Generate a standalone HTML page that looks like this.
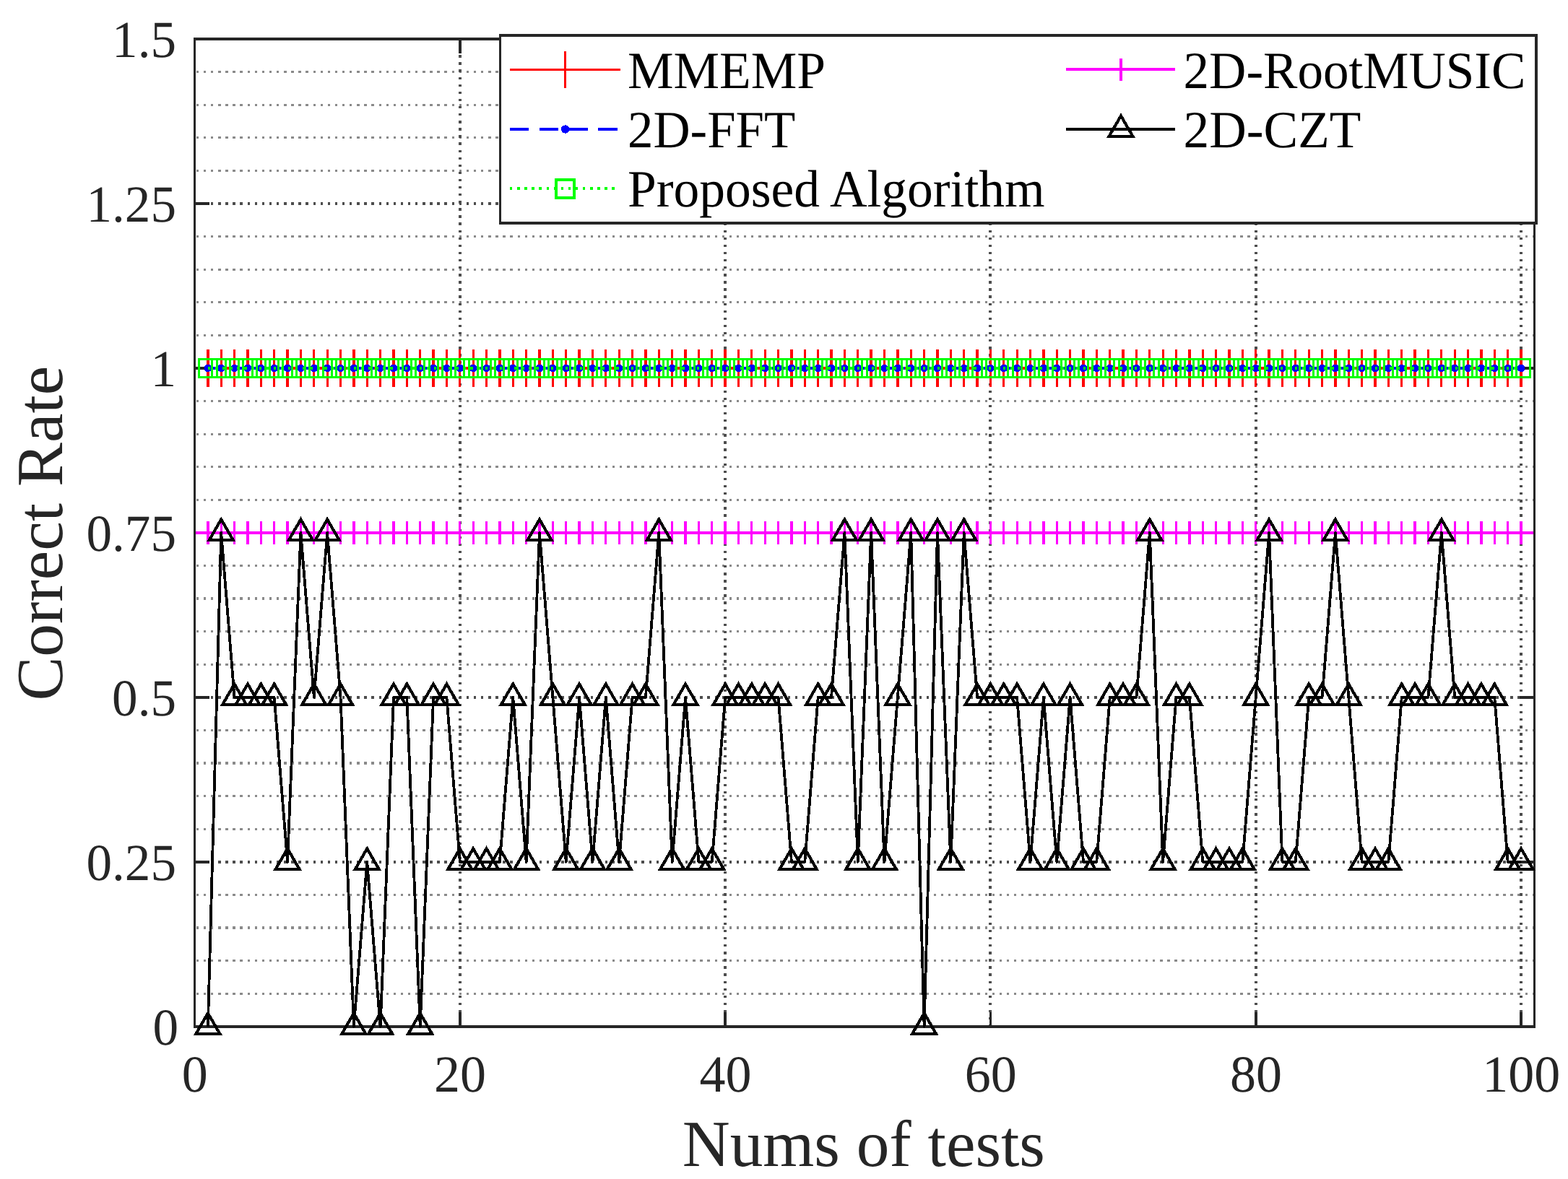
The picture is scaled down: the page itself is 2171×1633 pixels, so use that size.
<!DOCTYPE html>
<html lang="en">
<head>
<meta charset="utf-8">
<title>Correct Rate vs Nums of tests</title>
<style>
html,body{margin:0;padding:0;background:#fff}
body{width:2171px;height:1633px;overflow:hidden}
svg{display:block}
</style>
</head>
<body>
<svg width="2171" height="1633" viewBox="0 0 2171 1633" shape-rendering="crispEdges">
<rect width="2171" height="1633" fill="#fff"/>
<g fill="none" stroke="#8a8a8a" stroke-width="3.2" stroke-dasharray="3.4 6.7085" stroke-dashoffset="-2.300">
<path d="M269.5 1376.21H2124.4"/>
<path d="M269.5 1330.61H2124.4"/>
<path d="M269.5 1285.02H2124.4"/>
<path d="M269.5 1239.43H2124.4"/>
<path d="M269.5 1148.24H2124.4"/>
<path d="M269.5 1102.65H2124.4"/>
<path d="M269.5 1057.05H2124.4"/>
<path d="M269.5 1011.46H2124.4"/>
<path d="M269.5 920.27H2124.4"/>
<path d="M269.5 874.68H2124.4"/>
<path d="M269.5 829.09H2124.4"/>
<path d="M269.5 783.49H2124.4"/>
<path d="M269.5 692.31H2124.4"/>
<path d="M269.5 646.71H2124.4"/>
<path d="M269.5 601.12H2124.4"/>
<path d="M269.5 555.53H2124.4"/>
<path d="M269.5 464.34H2124.4"/>
<path d="M269.5 418.75H2124.4"/>
<path d="M269.5 373.15H2124.4"/>
<path d="M269.5 327.56H2124.4"/>
<path d="M269.5 236.37H2124.4"/>
<path d="M269.5 190.78H2124.4"/>
<path d="M269.5 145.19H2124.4"/>
<path d="M269.5 99.59H2124.4"/>
</g>
<g fill="none" stroke="#4d4d4d" stroke-width="4">
<path stroke-dasharray="3.4 6.7085" stroke-dashoffset="-2.300" d="M269.5 1193.83H2124.4"/>
<path stroke-dasharray="3.4 6.7085" stroke-dashoffset="-2.300" d="M269.5 965.87H2124.4"/>
<path stroke-dasharray="3.4 6.7085" stroke-dashoffset="-2.300" d="M269.5 737.9H2124.4"/>
<path stroke-dasharray="3.4 6.7085" stroke-dashoffset="-2.300" d="M269.5 509.93H2124.4"/>
<path stroke-dasharray="3.4 6.7085" stroke-dashoffset="-2.300" d="M269.5 281.97H2124.4"/>
<path stroke-dasharray="3.4 6.6966" stroke-dashoffset="-9.403" d="M636.81 1421.8V54"/>
<path stroke-dasharray="3.4 6.6966" stroke-dashoffset="-9.403" d="M1004.11 1421.8V54"/>
<path stroke-dasharray="3.4 6.6966" stroke-dashoffset="-9.403" d="M1371.42 1421.8V54"/>
<path stroke-dasharray="3.4 6.6966" stroke-dashoffset="-9.403" d="M1738.73 1421.8V54"/>
<path stroke-dasharray="3.4 6.6966" stroke-dashoffset="-9.403" d="M2106.03 1421.8V54"/>
</g>
<g fill="none" stroke="#262626">
<path stroke-width="3" d="M269.5 52V1423.8M2124.4 52V1423.8"/>
<path stroke-width="4" d="M268 54H2125.9M268 1421.8H2125.9"/>
<path stroke-width="3.6" d="M636.81 1421.8v-20.3M636.81 54v20.3M1004.11 1421.8v-20.3M1004.11 54v20.3M1371.42 1421.8v-20.3M1371.42 54v20.3M1738.73 1421.8v-20.3M1738.73 54v20.3M2106.03 1421.8v-20.3M2106.03 54v20.3"/>
<path stroke-width="4" d="M269.5 1193.83h20.3M2124.4 1193.83h-20.3M269.5 965.87h20.3M2124.4 965.87h-20.3M269.5 737.9h20.3M2124.4 737.9h-20.3M269.5 509.93h20.3M2124.4 509.93h-20.3M269.5 281.97h20.3M2124.4 281.97h-20.3"/>
</g>
<g fill="none" stroke="#f00">
<path stroke-width="4.0" d="M287.87 509.93H2106.03"/>
<path stroke-width="3.3" d="M287.87 483.93v52M306.23 483.93v52M324.6 483.93v52M342.96 483.93v52M361.33 483.93v52M379.69 483.93v52M398.06 483.93v52M416.42 483.93v52M434.79 483.93v52M453.15 483.93v52M471.52 483.93v52M489.88 483.93v52M508.25 483.93v52M526.61 483.93v52M544.98 483.93v52M563.35 483.93v52M581.71 483.93v52M600.08 483.93v52M618.44 483.93v52M636.81 483.93v52M655.17 483.93v52M673.54 483.93v52M691.9 483.93v52M710.27 483.93v52M728.63 483.93v52M747 483.93v52M765.36 483.93v52M783.73 483.93v52M802.1 483.93v52M820.46 483.93v52M838.83 483.93v52M857.19 483.93v52M875.56 483.93v52M893.92 483.93v52M912.29 483.93v52M930.65 483.93v52M949.02 483.93v52M967.38 483.93v52M985.75 483.93v52M1004.11 483.93v52M1022.48 483.93v52M1040.84 483.93v52M1059.21 483.93v52M1077.58 483.93v52M1095.94 483.93v52M1114.31 483.93v52M1132.67 483.93v52M1151.04 483.93v52M1169.4 483.93v52M1187.77 483.93v52M1206.13 483.93v52M1224.5 483.93v52M1242.86 483.93v52M1261.23 483.93v52M1279.59 483.93v52M1297.96 483.93v52M1316.32 483.93v52M1334.69 483.93v52M1353.06 483.93v52M1371.42 483.93v52M1389.79 483.93v52M1408.15 483.93v52M1426.52 483.93v52M1444.88 483.93v52M1463.25 483.93v52M1481.61 483.93v52M1499.98 483.93v52M1518.34 483.93v52M1536.71 483.93v52M1555.07 483.93v52M1573.44 483.93v52M1591.8 483.93v52M1610.17 483.93v52M1628.54 483.93v52M1646.9 483.93v52M1665.27 483.93v52M1683.63 483.93v52M1702 483.93v52M1720.36 483.93v52M1738.73 483.93v52M1757.09 483.93v52M1775.46 483.93v52M1793.82 483.93v52M1812.19 483.93v52M1830.55 483.93v52M1848.92 483.93v52M1867.29 483.93v52M1885.65 483.93v52M1904.02 483.93v52M1922.38 483.93v52M1940.75 483.93v52M1959.11 483.93v52M1977.48 483.93v52M1995.84 483.93v52M2014.21 483.93v52M2032.57 483.93v52M2050.94 483.93v52M2069.3 483.93v52M2087.67 483.93v52M2106.03 483.93v52"/>
</g>
<path fill="none" stroke="#00f" stroke-width="4.0" stroke-dasharray="26.3 14.5" d="M287.87 509.93H2106.03"/>
<g fill="#00f"><circle cx="287.87" cy="509.93" r="5.3"/><circle cx="306.23" cy="509.93" r="5.3"/><circle cx="324.6" cy="509.93" r="5.3"/><circle cx="342.96" cy="509.93" r="5.3"/><circle cx="361.33" cy="509.93" r="5.3"/><circle cx="379.69" cy="509.93" r="5.3"/><circle cx="398.06" cy="509.93" r="5.3"/><circle cx="416.42" cy="509.93" r="5.3"/><circle cx="434.79" cy="509.93" r="5.3"/><circle cx="453.15" cy="509.93" r="5.3"/><circle cx="471.52" cy="509.93" r="5.3"/><circle cx="489.88" cy="509.93" r="5.3"/><circle cx="508.25" cy="509.93" r="5.3"/><circle cx="526.61" cy="509.93" r="5.3"/><circle cx="544.98" cy="509.93" r="5.3"/><circle cx="563.35" cy="509.93" r="5.3"/><circle cx="581.71" cy="509.93" r="5.3"/><circle cx="600.08" cy="509.93" r="5.3"/><circle cx="618.44" cy="509.93" r="5.3"/><circle cx="636.81" cy="509.93" r="5.3"/><circle cx="655.17" cy="509.93" r="5.3"/><circle cx="673.54" cy="509.93" r="5.3"/><circle cx="691.9" cy="509.93" r="5.3"/><circle cx="710.27" cy="509.93" r="5.3"/><circle cx="728.63" cy="509.93" r="5.3"/><circle cx="747" cy="509.93" r="5.3"/><circle cx="765.36" cy="509.93" r="5.3"/><circle cx="783.73" cy="509.93" r="5.3"/><circle cx="802.1" cy="509.93" r="5.3"/><circle cx="820.46" cy="509.93" r="5.3"/><circle cx="838.83" cy="509.93" r="5.3"/><circle cx="857.19" cy="509.93" r="5.3"/><circle cx="875.56" cy="509.93" r="5.3"/><circle cx="893.92" cy="509.93" r="5.3"/><circle cx="912.29" cy="509.93" r="5.3"/><circle cx="930.65" cy="509.93" r="5.3"/><circle cx="949.02" cy="509.93" r="5.3"/><circle cx="967.38" cy="509.93" r="5.3"/><circle cx="985.75" cy="509.93" r="5.3"/><circle cx="1004.11" cy="509.93" r="5.3"/><circle cx="1022.48" cy="509.93" r="5.3"/><circle cx="1040.84" cy="509.93" r="5.3"/><circle cx="1059.21" cy="509.93" r="5.3"/><circle cx="1077.58" cy="509.93" r="5.3"/><circle cx="1095.94" cy="509.93" r="5.3"/><circle cx="1114.31" cy="509.93" r="5.3"/><circle cx="1132.67" cy="509.93" r="5.3"/><circle cx="1151.04" cy="509.93" r="5.3"/><circle cx="1169.4" cy="509.93" r="5.3"/><circle cx="1187.77" cy="509.93" r="5.3"/><circle cx="1206.13" cy="509.93" r="5.3"/><circle cx="1224.5" cy="509.93" r="5.3"/><circle cx="1242.86" cy="509.93" r="5.3"/><circle cx="1261.23" cy="509.93" r="5.3"/><circle cx="1279.59" cy="509.93" r="5.3"/><circle cx="1297.96" cy="509.93" r="5.3"/><circle cx="1316.32" cy="509.93" r="5.3"/><circle cx="1334.69" cy="509.93" r="5.3"/><circle cx="1353.06" cy="509.93" r="5.3"/><circle cx="1371.42" cy="509.93" r="5.3"/><circle cx="1389.79" cy="509.93" r="5.3"/><circle cx="1408.15" cy="509.93" r="5.3"/><circle cx="1426.52" cy="509.93" r="5.3"/><circle cx="1444.88" cy="509.93" r="5.3"/><circle cx="1463.25" cy="509.93" r="5.3"/><circle cx="1481.61" cy="509.93" r="5.3"/><circle cx="1499.98" cy="509.93" r="5.3"/><circle cx="1518.34" cy="509.93" r="5.3"/><circle cx="1536.71" cy="509.93" r="5.3"/><circle cx="1555.07" cy="509.93" r="5.3"/><circle cx="1573.44" cy="509.93" r="5.3"/><circle cx="1591.8" cy="509.93" r="5.3"/><circle cx="1610.17" cy="509.93" r="5.3"/><circle cx="1628.54" cy="509.93" r="5.3"/><circle cx="1646.9" cy="509.93" r="5.3"/><circle cx="1665.27" cy="509.93" r="5.3"/><circle cx="1683.63" cy="509.93" r="5.3"/><circle cx="1702" cy="509.93" r="5.3"/><circle cx="1720.36" cy="509.93" r="5.3"/><circle cx="1738.73" cy="509.93" r="5.3"/><circle cx="1757.09" cy="509.93" r="5.3"/><circle cx="1775.46" cy="509.93" r="5.3"/><circle cx="1793.82" cy="509.93" r="5.3"/><circle cx="1812.19" cy="509.93" r="5.3"/><circle cx="1830.55" cy="509.93" r="5.3"/><circle cx="1848.92" cy="509.93" r="5.3"/><circle cx="1867.29" cy="509.93" r="5.3"/><circle cx="1885.65" cy="509.93" r="5.3"/><circle cx="1904.02" cy="509.93" r="5.3"/><circle cx="1922.38" cy="509.93" r="5.3"/><circle cx="1940.75" cy="509.93" r="5.3"/><circle cx="1959.11" cy="509.93" r="5.3"/><circle cx="1977.48" cy="509.93" r="5.3"/><circle cx="1995.84" cy="509.93" r="5.3"/><circle cx="2014.21" cy="509.93" r="5.3"/><circle cx="2032.57" cy="509.93" r="5.3"/><circle cx="2050.94" cy="509.93" r="5.3"/><circle cx="2069.3" cy="509.93" r="5.3"/><circle cx="2087.67" cy="509.93" r="5.3"/><circle cx="2106.03" cy="509.93" r="5.3"/></g>
<g fill="none" stroke="#0f0">
<path stroke-width="4.0" stroke-dasharray="3.4 6.7" d="M287.87 509.93H2106.03"/>
<path stroke-width="3.0" stroke-linejoin="miter" d="M275.57 497.63h24.6v24.6h-24.6ZM293.93 497.63h24.6v24.6h-24.6ZM312.3 497.63h24.6v24.6h-24.6ZM330.66 497.63h24.6v24.6h-24.6ZM349.03 497.63h24.6v24.6h-24.6ZM367.39 497.63h24.6v24.6h-24.6ZM385.76 497.63h24.6v24.6h-24.6ZM404.12 497.63h24.6v24.6h-24.6ZM422.49 497.63h24.6v24.6h-24.6ZM440.85 497.63h24.6v24.6h-24.6ZM459.22 497.63h24.6v24.6h-24.6ZM477.58 497.63h24.6v24.6h-24.6ZM495.95 497.63h24.6v24.6h-24.6ZM514.31 497.63h24.6v24.6h-24.6ZM532.68 497.63h24.6v24.6h-24.6ZM551.05 497.63h24.6v24.6h-24.6ZM569.41 497.63h24.6v24.6h-24.6ZM587.78 497.63h24.6v24.6h-24.6ZM606.14 497.63h24.6v24.6h-24.6ZM624.51 497.63h24.6v24.6h-24.6ZM642.87 497.63h24.6v24.6h-24.6ZM661.24 497.63h24.6v24.6h-24.6ZM679.6 497.63h24.6v24.6h-24.6ZM697.97 497.63h24.6v24.6h-24.6ZM716.33 497.63h24.6v24.6h-24.6ZM734.7 497.63h24.6v24.6h-24.6ZM753.06 497.63h24.6v24.6h-24.6ZM771.43 497.63h24.6v24.6h-24.6ZM789.8 497.63h24.6v24.6h-24.6ZM808.16 497.63h24.6v24.6h-24.6ZM826.53 497.63h24.6v24.6h-24.6ZM844.89 497.63h24.6v24.6h-24.6ZM863.26 497.63h24.6v24.6h-24.6ZM881.62 497.63h24.6v24.6h-24.6ZM899.99 497.63h24.6v24.6h-24.6ZM918.35 497.63h24.6v24.6h-24.6ZM936.72 497.63h24.6v24.6h-24.6ZM955.08 497.63h24.6v24.6h-24.6ZM973.45 497.63h24.6v24.6h-24.6ZM991.81 497.63h24.6v24.6h-24.6ZM1010.18 497.63h24.6v24.6h-24.6ZM1028.54 497.63h24.6v24.6h-24.6ZM1046.91 497.63h24.6v24.6h-24.6ZM1065.28 497.63h24.6v24.6h-24.6ZM1083.64 497.63h24.6v24.6h-24.6ZM1102.01 497.63h24.6v24.6h-24.6ZM1120.37 497.63h24.6v24.6h-24.6ZM1138.74 497.63h24.6v24.6h-24.6ZM1157.1 497.63h24.6v24.6h-24.6ZM1175.47 497.63h24.6v24.6h-24.6ZM1193.83 497.63h24.6v24.6h-24.6ZM1212.2 497.63h24.6v24.6h-24.6ZM1230.56 497.63h24.6v24.6h-24.6ZM1248.93 497.63h24.6v24.6h-24.6ZM1267.29 497.63h24.6v24.6h-24.6ZM1285.66 497.63h24.6v24.6h-24.6ZM1304.02 497.63h24.6v24.6h-24.6ZM1322.39 497.63h24.6v24.6h-24.6ZM1340.76 497.63h24.6v24.6h-24.6ZM1359.12 497.63h24.6v24.6h-24.6ZM1377.49 497.63h24.6v24.6h-24.6ZM1395.85 497.63h24.6v24.6h-24.6ZM1414.22 497.63h24.6v24.6h-24.6ZM1432.58 497.63h24.6v24.6h-24.6ZM1450.95 497.63h24.6v24.6h-24.6ZM1469.31 497.63h24.6v24.6h-24.6ZM1487.68 497.63h24.6v24.6h-24.6ZM1506.04 497.63h24.6v24.6h-24.6ZM1524.41 497.63h24.6v24.6h-24.6ZM1542.77 497.63h24.6v24.6h-24.6ZM1561.14 497.63h24.6v24.6h-24.6ZM1579.5 497.63h24.6v24.6h-24.6ZM1597.87 497.63h24.6v24.6h-24.6ZM1616.24 497.63h24.6v24.6h-24.6ZM1634.6 497.63h24.6v24.6h-24.6ZM1652.97 497.63h24.6v24.6h-24.6ZM1671.33 497.63h24.6v24.6h-24.6ZM1689.7 497.63h24.6v24.6h-24.6ZM1708.06 497.63h24.6v24.6h-24.6ZM1726.43 497.63h24.6v24.6h-24.6ZM1744.79 497.63h24.6v24.6h-24.6ZM1763.16 497.63h24.6v24.6h-24.6ZM1781.52 497.63h24.6v24.6h-24.6ZM1799.89 497.63h24.6v24.6h-24.6ZM1818.25 497.63h24.6v24.6h-24.6ZM1836.62 497.63h24.6v24.6h-24.6ZM1854.99 497.63h24.6v24.6h-24.6ZM1873.35 497.63h24.6v24.6h-24.6ZM1891.72 497.63h24.6v24.6h-24.6ZM1910.08 497.63h24.6v24.6h-24.6ZM1928.45 497.63h24.6v24.6h-24.6ZM1946.81 497.63h24.6v24.6h-24.6ZM1965.18 497.63h24.6v24.6h-24.6ZM1983.54 497.63h24.6v24.6h-24.6ZM2001.91 497.63h24.6v24.6h-24.6ZM2020.27 497.63h24.6v24.6h-24.6ZM2038.64 497.63h24.6v24.6h-24.6ZM2057 497.63h24.6v24.6h-24.6ZM2075.37 497.63h24.6v24.6h-24.6ZM2093.73 497.63h24.6v24.6h-24.6Z"/>
</g>
<g fill="none" stroke="#f0f">
<path stroke-width="4.0" d="M271 737.9H2122.6"/>
<path stroke-width="3.3" d="M287.87 722v31.8M306.23 722v31.8M324.6 722v31.8M342.96 722v31.8M361.33 722v31.8M379.69 722v31.8M398.06 722v31.8M416.42 722v31.8M434.79 722v31.8M453.15 722v31.8M471.52 722v31.8M489.88 722v31.8M508.25 722v31.8M526.61 722v31.8M544.98 722v31.8M563.35 722v31.8M581.71 722v31.8M600.08 722v31.8M618.44 722v31.8M636.81 722v31.8M655.17 722v31.8M673.54 722v31.8M691.9 722v31.8M710.27 722v31.8M728.63 722v31.8M747 722v31.8M765.36 722v31.8M783.73 722v31.8M802.1 722v31.8M820.46 722v31.8M838.83 722v31.8M857.19 722v31.8M875.56 722v31.8M893.92 722v31.8M912.29 722v31.8M930.65 722v31.8M949.02 722v31.8M967.38 722v31.8M985.75 722v31.8M1004.11 722v31.8M1022.48 722v31.8M1040.84 722v31.8M1059.21 722v31.8M1077.58 722v31.8M1095.94 722v31.8M1114.31 722v31.8M1132.67 722v31.8M1151.04 722v31.8M1169.4 722v31.8M1187.77 722v31.8M1206.13 722v31.8M1224.5 722v31.8M1242.86 722v31.8M1261.23 722v31.8M1279.59 722v31.8M1297.96 722v31.8M1316.32 722v31.8M1334.69 722v31.8M1353.06 722v31.8M1371.42 722v31.8M1389.79 722v31.8M1408.15 722v31.8M1426.52 722v31.8M1444.88 722v31.8M1463.25 722v31.8M1481.61 722v31.8M1499.98 722v31.8M1518.34 722v31.8M1536.71 722v31.8M1555.07 722v31.8M1573.44 722v31.8M1591.8 722v31.8M1610.17 722v31.8M1628.54 722v31.8M1646.9 722v31.8M1665.27 722v31.8M1683.63 722v31.8M1702 722v31.8M1720.36 722v31.8M1738.73 722v31.8M1757.09 722v31.8M1775.46 722v31.8M1793.82 722v31.8M1812.19 722v31.8M1830.55 722v31.8M1848.92 722v31.8M1867.29 722v31.8M1885.65 722v31.8M1904.02 722v31.8M1922.38 722v31.8M1940.75 722v31.8M1959.11 722v31.8M1977.48 722v31.8M1995.84 722v31.8M2014.21 722v31.8M2032.57 722v31.8M2050.94 722v31.8M2069.3 722v31.8M2087.67 722v31.8M2106.03 722v31.8"/>
</g>
<g fill="none" stroke="#000" stroke-linejoin="miter" stroke-miterlimit="10">
<path stroke-width="3.8" stroke-linejoin="round" d="M287.87 1421.8L306.23 737.9L324.6 965.87L342.96 965.87L361.33 965.87L379.69 965.87L398.06 1193.83L416.42 737.9L434.79 965.87L453.15 737.9L471.52 965.87L489.88 1421.8L508.25 1193.83L526.61 1421.8L544.98 965.87L563.35 965.87L581.71 1421.8L600.08 965.87L618.44 965.87L636.81 1193.83L655.17 1193.83L673.54 1193.83L691.9 1193.83L710.27 965.87L728.63 1193.83L747 737.9L765.36 965.87L783.73 1193.83L802.1 965.87L820.46 1193.83L838.83 965.87L857.19 1193.83L875.56 965.87L893.92 965.87L912.29 737.9L930.65 1193.83L949.02 965.87L967.38 1193.83L985.75 1193.83L1004.11 965.87L1022.48 965.87L1040.84 965.87L1059.21 965.87L1077.58 965.87L1095.94 1193.83L1114.31 1193.83L1132.67 965.87L1151.04 965.87L1169.4 737.9L1187.77 1193.83L1206.13 737.9L1224.5 1193.83L1242.86 965.87L1261.23 737.9L1279.59 1421.8L1297.96 737.9L1316.32 1193.83L1334.69 737.9L1353.06 965.87L1371.42 965.87L1389.79 965.87L1408.15 965.87L1426.52 1193.83L1444.88 965.87L1463.25 1193.83L1481.61 965.87L1499.98 1193.83L1518.34 1193.83L1536.71 965.87L1555.07 965.87L1573.44 965.87L1591.8 737.9L1610.17 1193.83L1628.54 965.87L1646.9 965.87L1665.27 1193.83L1683.63 1193.83L1702 1193.83L1720.36 1193.83L1738.73 965.87L1757.09 737.9L1775.46 1193.83L1793.82 1193.83L1812.19 965.87L1830.55 965.87L1848.92 737.9L1867.29 965.87L1885.65 1193.83L1904.02 1193.83L1922.38 1193.83L1940.75 965.87L1959.11 965.87L1977.48 965.87L1995.84 737.9L2014.21 965.87L2032.57 965.87L2050.94 965.87L2069.3 965.87L2087.67 1193.83L2106.03 1193.83"/>
<path stroke-width="4.1" d="M287.87 1403.32L304.22 1431.64H271.52ZM306.23 719.42L322.58 747.74H289.88ZM324.6 947.39L340.95 975.71H308.25ZM342.96 947.39L359.31 975.71H326.61ZM361.33 947.39L377.68 975.71H344.98ZM379.69 947.39L396.04 975.71H363.34ZM398.06 1175.35L414.41 1203.67H381.71ZM416.42 719.42L432.77 747.74H400.07ZM434.79 947.39L451.14 975.71H418.44ZM453.15 719.42L469.5 747.74H436.8ZM471.52 947.39L487.87 975.71H455.17ZM489.88 1403.32L506.23 1431.64H473.53ZM508.25 1175.35L524.6 1203.67H491.9ZM526.61 1403.32L542.96 1431.64H510.26ZM544.98 947.39L561.33 975.71H528.63ZM563.35 947.39L579.7 975.71H547ZM581.71 1403.32L598.06 1431.64H565.36ZM600.08 947.39L616.43 975.71H583.73ZM618.44 947.39L634.79 975.71H602.09ZM636.81 1175.35L653.16 1203.67H620.46ZM655.17 1175.35L671.52 1203.67H638.82ZM673.54 1175.35L689.89 1203.67H657.19ZM691.9 1175.35L708.25 1203.67H675.55ZM710.27 947.39L726.62 975.71H693.92ZM728.63 1175.35L744.98 1203.67H712.28ZM747 719.42L763.35 747.74H730.65ZM765.36 947.39L781.71 975.71H749.01ZM783.73 1175.35L800.08 1203.67H767.38ZM802.1 947.39L818.45 975.71H785.75ZM820.46 1175.35L836.81 1203.67H804.11ZM838.83 947.39L855.18 975.71H822.48ZM857.19 1175.35L873.54 1203.67H840.84ZM875.56 947.39L891.91 975.71H859.21ZM893.92 947.39L910.27 975.71H877.57ZM912.29 719.42L928.64 747.74H895.94ZM930.65 1175.35L947 1203.67H914.3ZM949.02 947.39L965.37 975.71H932.67ZM967.38 1175.35L983.73 1203.67H951.03ZM985.75 1175.35L1002.1 1203.67H969.4ZM1004.11 947.39L1020.46 975.71H987.76ZM1022.48 947.39L1038.83 975.71H1006.13ZM1040.84 947.39L1057.19 975.71H1024.49ZM1059.21 947.39L1075.56 975.71H1042.86ZM1077.58 947.39L1093.93 975.71H1061.23ZM1095.94 1175.35L1112.29 1203.67H1079.59ZM1114.31 1175.35L1130.66 1203.67H1097.96ZM1132.67 947.39L1149.02 975.71H1116.32ZM1151.04 947.39L1167.39 975.71H1134.69ZM1169.4 719.42L1185.75 747.74H1153.05ZM1187.77 1175.35L1204.12 1203.67H1171.42ZM1206.13 719.42L1222.48 747.74H1189.78ZM1224.5 1175.35L1240.85 1203.67H1208.15ZM1242.86 947.39L1259.21 975.71H1226.51ZM1261.23 719.42L1277.58 747.74H1244.88ZM1279.59 1403.32L1295.94 1431.64H1263.24ZM1297.96 719.42L1314.31 747.74H1281.61ZM1316.32 1175.35L1332.67 1203.67H1299.97ZM1334.69 719.42L1351.04 747.74H1318.34ZM1353.06 947.39L1369.41 975.71H1336.71ZM1371.42 947.39L1387.77 975.71H1355.07ZM1389.79 947.39L1406.14 975.71H1373.44ZM1408.15 947.39L1424.5 975.71H1391.8ZM1426.52 1175.35L1442.87 1203.67H1410.17ZM1444.88 947.39L1461.23 975.71H1428.53ZM1463.25 1175.35L1479.6 1203.67H1446.9ZM1481.61 947.39L1497.96 975.71H1465.26ZM1499.98 1175.35L1516.33 1203.67H1483.63ZM1518.34 1175.35L1534.69 1203.67H1501.99ZM1536.71 947.39L1553.06 975.71H1520.36ZM1555.07 947.39L1571.42 975.71H1538.72ZM1573.44 947.39L1589.79 975.71H1557.09ZM1591.8 719.42L1608.15 747.74H1575.45ZM1610.17 1175.35L1626.52 1203.67H1593.82ZM1628.54 947.39L1644.89 975.71H1612.19ZM1646.9 947.39L1663.25 975.71H1630.55ZM1665.27 1175.35L1681.62 1203.67H1648.92ZM1683.63 1175.35L1699.98 1203.67H1667.28ZM1702 1175.35L1718.35 1203.67H1685.65ZM1720.36 1175.35L1736.71 1203.67H1704.01ZM1738.73 947.39L1755.08 975.71H1722.38ZM1757.09 719.42L1773.44 747.74H1740.74ZM1775.46 1175.35L1791.81 1203.67H1759.11ZM1793.82 1175.35L1810.17 1203.67H1777.47ZM1812.19 947.39L1828.54 975.71H1795.84ZM1830.55 947.39L1846.9 975.71H1814.2ZM1848.92 719.42L1865.27 747.74H1832.57ZM1867.29 947.39L1883.64 975.71H1850.94ZM1885.65 1175.35L1902 1203.67H1869.3ZM1904.02 1175.35L1920.37 1203.67H1887.67ZM1922.38 1175.35L1938.73 1203.67H1906.03ZM1940.75 947.39L1957.1 975.71H1924.4ZM1959.11 947.39L1975.46 975.71H1942.76ZM1977.48 947.39L1993.83 975.71H1961.13ZM1995.84 719.42L2012.19 747.74H1979.49ZM2014.21 947.39L2030.56 975.71H1997.86ZM2032.57 947.39L2048.92 975.71H2016.22ZM2050.94 947.39L2067.29 975.71H2034.59ZM2069.3 947.39L2085.65 975.71H2052.95ZM2087.67 1175.35L2104.02 1203.67H2071.32ZM2106.03 1175.35L2122.38 1203.67H2089.68Z"/>
</g>
<rect x="692.0" y="49.0" width="1435" height="259.6" fill="#fff"/>
<g fill="none" stroke="#262626">
<path stroke-width="3" d="M692.0 47.0V310.6"/>
<path stroke-width="4" d="M2127.0 47.0V310.6M690.5 49.0H2129.0M690.5 309.0H2129.0"/>
</g>
<g fill="none">
<path stroke="#f00" stroke-width="3" d="M706.0 96.5H859.0"/>
<path stroke="#f00" stroke-width="3.3" d="M782.6 70.8v51"/>
<path stroke="#00f" stroke-width="4.0" stroke-dasharray="26.3 14.5" d="M706.0 179.0H859.0"/>
<circle cx="782.6" cy="179.0" r="5.7" fill="#00f"/>
<path stroke="#0f0" stroke-width="4.0" stroke-dasharray="3.4 6.7" d="M706.0 261.3H852"/>
<path stroke="#0f0" stroke-width="4" d="M770.15 248.85h24.9v24.9h-24.9Z"/>
<path stroke="#f0f" stroke-width="4.0" d="M1476.4 96.3H1627.4"/>
<path stroke="#f0f" stroke-width="3.3" d="M1552.0 80.8v31"/>
<path stroke="#000" stroke-width="4.0" d="M1476.4 179.0H1627.4"/>
<path stroke="#000" stroke-width="4.1" stroke-miterlimit="10" d="M1552 160.42L1568.35 188.74H1535.65Z"/>
</g>
<g text-rendering="geometricPrecision" font-family="'Liberation Serif', 'Times New Roman', serif" font-size="72.7" fill="#000">
<text x="869" y="122.4" textLength="274.1" lengthAdjust="spacingAndGlyphs">MMEMP</text>
<text x="869" y="204.1" textLength="232.3" lengthAdjust="spacingAndGlyphs">2D-FFT</text>
<text x="869" y="285.8" textLength="577.6" lengthAdjust="spacingAndGlyphs">Proposed Algorithm</text>
<text x="1638.6" y="122.4" textLength="473.8" lengthAdjust="spacingAndGlyphs">2D-RootMUSIC</text>
<text x="1638.6" y="203.6" textLength="245.7" lengthAdjust="spacingAndGlyphs">2D-CZT</text>
</g>
<g text-rendering="geometricPrecision" font-family="'Liberation Serif', 'Times New Roman', serif" font-size="72" fill="#262626">
<text x="269.8" y="1511.6" text-anchor="middle" textLength="36.0" lengthAdjust="spacingAndGlyphs">0</text>
<text x="637.11" y="1511.6" text-anchor="middle" textLength="72.0" lengthAdjust="spacingAndGlyphs">20</text>
<text x="1004.41" y="1511.6" text-anchor="middle" textLength="72.0" lengthAdjust="spacingAndGlyphs">40</text>
<text x="1371.72" y="1511.6" text-anchor="middle" textLength="72.0" lengthAdjust="spacingAndGlyphs">60</text>
<text x="1739.03" y="1511.6" text-anchor="middle" textLength="72.0" lengthAdjust="spacingAndGlyphs">80</text>
<text x="2106.33" y="1511.6" text-anchor="middle" textLength="108.0" lengthAdjust="spacingAndGlyphs">100</text>
<text x="247" y="1446.8" text-anchor="end" textLength="35.6" lengthAdjust="spacingAndGlyphs">0</text>
<text x="244" y="1218.83" text-anchor="end" textLength="124.5" lengthAdjust="spacingAndGlyphs">0.25</text>
<text x="244" y="990.87" text-anchor="end" textLength="88.9" lengthAdjust="spacingAndGlyphs">0.5</text>
<text x="244" y="762.9" text-anchor="end" textLength="124.5" lengthAdjust="spacingAndGlyphs">0.75</text>
<text x="244" y="534.93" text-anchor="end" textLength="35.6" lengthAdjust="spacingAndGlyphs">1</text>
<text x="244" y="306.97" text-anchor="end" textLength="124.5" lengthAdjust="spacingAndGlyphs">1.25</text>
<text x="244" y="79" text-anchor="end" textLength="88.9" lengthAdjust="spacingAndGlyphs">1.5</text>
</g>
<g text-rendering="geometricPrecision" font-family="'Liberation Serif', 'Times New Roman', serif" font-size="91.3" fill="#262626" text-anchor="middle">
<text x="1195.8" y="1614.5">Nums of tests</text>
<text transform="translate(86.1 738.6) rotate(-90)">Correct Rate</text>
</g>
</svg>
</body>
</html>
